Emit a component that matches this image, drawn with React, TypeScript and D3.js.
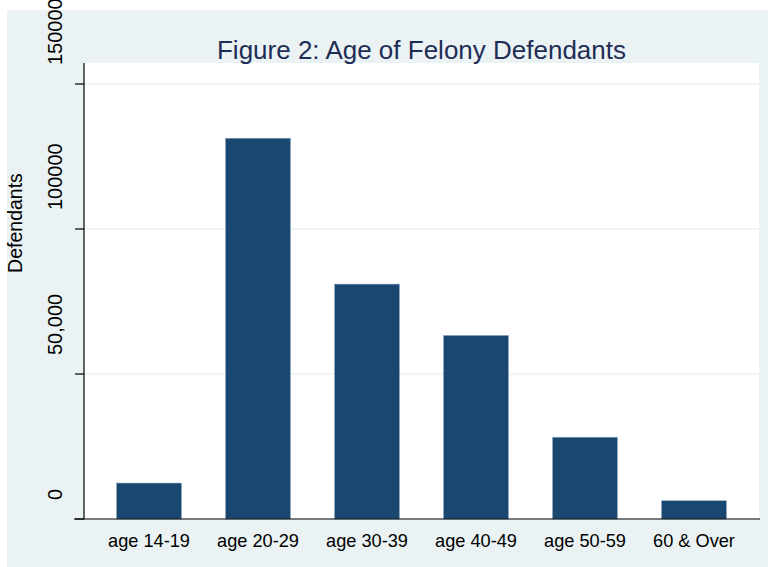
import React from 'react';
import * as d3 from 'd3';

const categories = ['age 14-19', 'age 20-29', 'age 30-39', 'age 40-49', 'age 50-59', '60 & Over'];
const defendants = [12400, 131300, 81000, 63300, 28200, 6300];
const yTicks = [0, 50000, 100000, 150000];
const yTickLabels = ['0', '50,000', '100000', '150000'];

const W = 768;
const H = 567;
const plot = { left: 84, top: 63, right: 759, bottom: 519 };
const font = '"Liberation Sans", Arial, sans-serif';

const App = () => {
  const x = d3.scaleBand<string>()
    .domain(categories)
    .range([plot.left, plot.right])
    .paddingInner(0.404)
    .paddingOuter(0.2985);

  const y = d3.scaleLinear()
    .domain([0, 150000])
    .range([plot.bottom, plot.bottom - 435]);

  return (
    <svg width={W} height={H} style={{ position: 'absolute', left: 0, top: 0 }}>
      {/* outer graph region */}
      <rect x={7} y={10} width={W - 7} height={H - 10} fill="#eaf2f3" />
      {/* plot region */}
      <rect x={plot.left} y={plot.top} width={plot.right - plot.left} height={plot.bottom - plot.top} fill="#ffffff" />

      {/* gridlines */}
      {yTicks.filter((t) => t > 0).map((t) => (
        <line key={t} x1={plot.left} x2={plot.right} y1={y(t)} y2={y(t)} stroke="#eaf2f3" strokeWidth={1.5} />
      ))}

      {/* bars */}
      {categories.map((c, i) => (
        <rect
          key={c}
          x={x(c)}
          y={y(defendants[i])}
          width={x.bandwidth()}
          height={y(0) - y(defendants[i])}
          fill="#1a476f"
          stroke="#8fa8c2"
          strokeWidth={0.6}
        />
      ))}

      {/* axes */}
      <line x1={plot.left} x2={plot.left} y1={plot.top} y2={plot.bottom} stroke="#000" strokeWidth={1.2} />
      <line x1={74} x2={760} y1={plot.bottom} y2={plot.bottom} stroke="#000" strokeWidth={1.2} />
      {yTicks.map((t) => (
        <line key={t} x1={75} x2={plot.left} y1={y(t)} y2={y(t)} stroke="#000" strokeWidth={1.2} />
      ))}

      {/* y tick labels */}
      {yTicks.map((t, i) => (
        <text
          key={t}
          transform={`translate(62,${y(t) - 19}) rotate(-90)`}
          textAnchor="start"
          fontFamily={font}
          fontSize={20}
          fill="#000"
        >
          {yTickLabels[i]}
        </text>
      ))}

      {/* x tick labels */}
      {categories.map((c) => (
        <text
          key={c}
          x={(x(c) ?? 0) + x.bandwidth() / 2}
          y={547}
          textAnchor="middle"
          fontFamily={font}
          fontSize={18.2}
          fill="#000"
        >
          {c}
        </text>
      ))}

      {/* axis title */}
      <text
        transform="translate(22,223) rotate(-90)"
        textAnchor="middle"
        fontFamily={font}
        fontSize={19.5}
        fill="#000"
      >
        Defendants
      </text>

      {/* title */}
      <text
        x={(plot.left + plot.right) / 2}
        y={59}
        textAnchor="middle"
        fontFamily={font}
        fontSize={26}
        fill="#1f2d56"
      >
        Figure 2: Age of Felony Defendants
      </text>
    </svg>
  );
};

export default App;
